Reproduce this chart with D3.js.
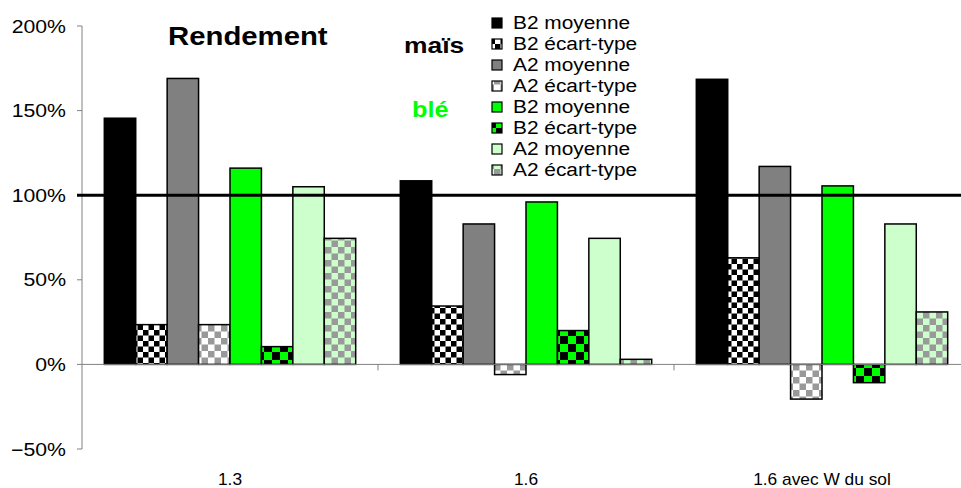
<!DOCTYPE html>
<html><head><meta charset="utf-8">
<script src="https://cdn.jsdelivr.net/npm/d3@7"></script>
<style>html,body{margin:0;padding:0;background:#fff}svg{display:block;font-family:Arial,"Liberation Sans",sans-serif}</style>
</head><body>
<script>
const categories = ["1.3", "1.6", "1.6 avec W du sol"];
const seriesNames = ["B2 moyenne", "B2 écart-type", "A2 moyenne", "A2 écart-type",
                     "B2 moyenne", "B2 écart-type", "A2 moyenne", "A2 écart-type"];
const maisB2Moy = [1.455, 1.085, 1.685];
const maisB2Std = [0.235, 0.345, 0.63];
const maisA2Moy = [1.69, 0.83, 1.17];
const maisA2Std = [0.235, -0.06, -0.205];
const bleB2Moy = [1.16, 0.96, 1.055];
const bleB2Std = [0.105, 0.20, -0.108];
const bleA2Moy = [1.05, 0.745, 0.83];
const bleA2Std = [0.745, 0.03, 0.31];
const yTicks = [-0.5, 0, 0.5, 1, 1.5, 2];
const refValue = 1;

const allSeries = [maisB2Moy, maisB2Std, maisA2Moy, maisA2Std, bleB2Moy, bleB2Std, bleA2Moy, bleA2Std];
const fills = ["#000000", "url(#chkBW)", "#808080", "url(#chkGW)", "#00ff00", "url(#chkBG)", "#ccffcc", "url(#chkGL)"];

const W = 961, H = 488, SX = 1.15;
const svg = d3.select("body").append("svg").attr("width", W).attr("height", H);
const defs = svg.append("defs");
function checker(id, a, b, s) {
  const p = defs.append("pattern").attr("id", id).attr("patternUnits", "userSpaceOnUse")
    .attr("width", 2 * s).attr("height", 2 * s);
  p.append("rect").attr("width", 2 * s).attr("height", 2 * s).attr("fill", b);
  p.append("rect").attr("width", s).attr("height", s).attr("fill", a);
  p.append("rect").attr("x", s).attr("y", s).attr("width", s).attr("height", s).attr("fill", a);
}
checker("chkBW", "#000", "#fff", 5.5);
checker("chkGW", "#999", "#fff", 6.5);
checker("chkBG", "#000", "#00ff00", 8);
checker("chkGL", "#999", "#ccffcc", 6.5);

const left = 82;
const x0 = d3.scaleBand().domain(categories).range([left, left + 3 * 296]).padding(0);
const x1 = d3.scaleBand().domain(d3.range(8)).range([0, x0.bandwidth()]).paddingInner(0).paddingOuter(0.71);
const y = d3.scaleLinear().domain([-0.5, 2]).range([449, 26]);

function stext(g, x, yy, txt, opts, sx) {
  const t = g.append("text").attr("transform", `translate(${x},${yy}) scale(${sx || SX},1)`).text(txt);
  for (const k in opts) t.attr(k, opts[k]);
  return t;
}

// bars
const gBars = svg.append("g");
allSeries.forEach((vals, si) => {
  gBars.selectAll(null).data(vals).join("rect")
    .attr("x", (d, i) => x0(categories[i]) + x1(si))
    .attr("width", x1.bandwidth())
    .attr("y", d => y(Math.max(0, d)))
    .attr("height", d => Math.abs(y(d) - y(0)))
    .attr("fill", fills[si])
    .attr("stroke", "#000").attr("stroke-width", 1.5);
});

// zero line
svg.append("line").attr("x1", left).attr("x2", W).attr("y1", y(0)).attr("y2", y(0))
  .attr("stroke", "#808080").attr("stroke-width", 1);
// category ticks
categories.slice(1).forEach(c => {
  svg.append("line").attr("x1", x0(c)).attr("x2", x0(c)).attr("y1", y(0)).attr("y2", y(0) + 6)
    .attr("stroke", "#808080").attr("stroke-width", 1);
});

// y axis
const gy = svg.append("g");
gy.append("line").attr("x1", left).attr("x2", left).attr("y1", y(2)).attr("y2", y(-0.5))
  .attr("stroke", "#808080").attr("stroke-width", 1);
yTicks.forEach(t => {
  gy.append("line").attr("x1", left - 5).attr("x2", left).attr("y1", y(t)).attr("y2", y(t))
    .attr("stroke", "#808080");
  stext(gy, 66, y(t) + 6.5, d3.format(".0%")(t), {"text-anchor": "end", "font-size": "18px", "fill": "#000"}, 1.18);
});

// 100% reference line
svg.append("line").attr("x1", left - 5).attr("x2", W).attr("y1", y(refValue)).attr("y2", y(refValue))
  .attr("stroke", "#000").attr("stroke-width", 3);

// category labels
categories.forEach(c => {
  stext(svg, x0(c) + x0.bandwidth() / 2, 485, c, {"text-anchor": "middle", "font-size": "17px", "fill": "#000"}, 1.02);
});

// titles
stext(svg, 168, 45, "Rendement", {"font-size": "25.5px", "font-weight": "bold", "fill": "#000"});
stext(svg, 404, 53, "maïs", {"font-size": "22px", "font-weight": "bold", "fill": "#000"}, 1.2);
stext(svg, 412, 117, "blé", {"font-size": "22px", "font-weight": "bold", "fill": "#00ff00"}, 1.15);

// legend
const gl = svg.append("g");
seriesNames.forEach((n, i) => {
  const by = 29 + i * 21;
  gl.append("rect").attr("x", 492).attr("y", by - 11).attr("width", 10).attr("height", 10)
    .attr("fill", fills[i]).attr("stroke", "#000").attr("stroke-width", 1.2);
  stext(gl, 513, by, n, {"font-size": "18px", "fill": "#000"}, 1.16);
});
</script>
</body></html>
